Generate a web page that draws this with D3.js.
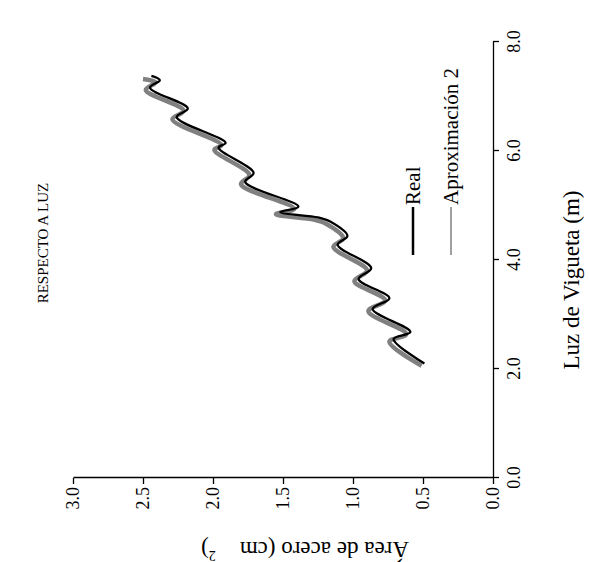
<!DOCTYPE html>
<html>
<head>
<meta charset="utf-8">
<script src="https://cdn.jsdelivr.net/npm/d3@7/dist/d3.min.js"></script>
<style>
  body { margin: 0; background: #fff; }
  text { font-family: "Liberation Serif", "DejaVu Serif", serif; fill: #000; }
</style>
</head>
<body>
<div id="chart-area"></div>
<script>
// data
const luzReal  = [2.10, 2.55, 2.68, 3.10, 3.30, 3.65, 3.85, 4.28, 4.44, 4.70, 4.78, 4.88, 4.98, 5.43, 5.60, 6.06, 6.15, 6.62, 6.78, 7.16, 7.30, 7.38]
const areaReal = [0.49, 0.71, 0.59, 0.86, 0.74, 0.96, 0.87, 1.11, 1.04, 1.16, 1.25, 1.52, 1.39, 1.77, 1.71, 1.96, 1.91, 2.26, 2.18, 2.45, 2.38, 2.44]
const luzAprox  = [2.06, 2.50, 2.64, 3.06, 3.26, 3.61, 3.81, 4.24, 4.40, 4.66, 4.74, 4.84, 4.94, 5.39, 5.56, 6.02, 6.11, 6.58, 6.74, 7.12, 7.26, 7.32]
const areaAprox = [0.51, 0.74, 0.62, 0.89, 0.77, 0.99, 0.90, 1.14, 1.07, 1.19, 1.28, 1.55, 1.42, 1.80, 1.74, 1.99, 1.94, 2.29, 2.21, 2.48, 2.41, 2.50]
const luzTicks = [0, 2, 4, 6, 8]
const areaTicks = [0, 0.5, 1, 1.5, 2, 2.5, 3]
const seriesNames = ["Real", "Aproximación 2"]

const WIDTH = 589, HEIGHT = 562

const svg = d3.select("#chart-area").append("svg")
  .attr("width", WIDTH)
  .attr("height", HEIGHT)

// the chart is laid out as a normal landscape chart, then turned a quarter left
const g = svg.append("g")
  .attr("transform", `translate(0, ${HEIGHT}) rotate(-90)`)

// scales (frame coords: x along luz, y along area)
const x = d3.scaleLinear().domain([0, 8]).range([84, 520])
const y = d3.scaleLinear().domain([0, 3]).range([493, 73])

const fmt = d3.format(".1f")

// axes
const xAxis = g.append("g")
  .attr("transform", `translate(0, ${y(0)})`)
  .call(d3.axisBottom(x).tickValues(luzTicks).tickFormat(fmt).tickSize(6).tickSizeOuter(0))
const yAxis = g.append("g")
  .attr("transform", `translate(${x(0)}, 0)`)
  .call(d3.axisLeft(y).tickValues(areaTicks).tickFormat(fmt).tickSize(6).tickSizeOuter(0))

g.selectAll(".domain, .tick line").attr("stroke", "#000").attr("stroke-width", 1.3)
g.selectAll(".tick text").attr("font-size", "18px").attr("fill", "#000")
xAxis.selectAll(".tick text").attr("dy", "1.0em")
yAxis.selectAll(".tick text").attr("x", -9)

// lines
const line = d3.line()
  .x(d => x(d[0]))
  .y(d => y(d[1]))
  .curve(d3.curveCatmullRom.alpha(0.5))

g.append("path")
  .datum(luzAprox.map((l, i) => [l, areaAprox[i]]))
  .attr("fill", "none")
  .attr("stroke", "#808080")
  .attr("stroke-width", 4.5)
  .attr("d", line)

g.append("path")
  .datum(luzReal.map((l, i) => [l, areaReal[i]]))
  .attr("fill", "none")
  .attr("stroke", "#000")
  .attr("stroke-width", 2.3)
  .attr("d", line)

// title
g.append("text")
  .attr("x", 319)
  .attr("y", 48)
  .attr("text-anchor", "middle")
  .attr("font-size", "15px")
  .text("RESPECTO A LUZ")

// axis titles
g.append("text")
  .attr("x", 282)
  .attr("y", 579)
  .attr("text-anchor", "middle")
  .attr("font-size", "23px")
  .text("Luz de Vigueta (m)")

const yLabel = g.append("text")
  .attr("transform", `translate(20, 305) rotate(-90)`)
  .attr("text-anchor", "middle")
  .attr("font-size", "23px")
yLabel.append("tspan").text("Área de acero (cm")
yLabel.append("tspan").attr("dx", 24).attr("dy", -9).attr("font-size", "14px").text("2")
yLabel.append("tspan").attr("dy", 9).text(")")

// legend
const legend = g.selectAll(".legend")
  .data(seriesNames)
  .enter().append("g")
  .attr("transform", (d, i) => `translate(307, ${[413, 451][i]})`)
legend.append("line")
  .attr("x1", 0).attr("x2", 48)
  .attr("stroke", (d, i) => i === 0 ? "#000" : "#808080")
  .attr("stroke-width", (d, i) => i === 0 ? 2.5 : 1.5)
legend.append("text")
  .attr("x", 50)
  .attr("dy", "0.35em")
  .attr("font-size", "21px")
  .text(d => d)
</script>
</body>
</html>
